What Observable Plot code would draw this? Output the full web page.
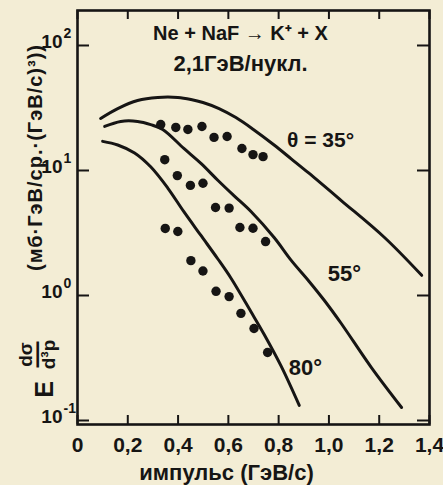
<!DOCTYPE html>
<html><head><meta charset="utf-8">
<script src="https://cdn.jsdelivr.net/npm/d3@7"></script>
<script src="https://cdn.jsdelivr.net/npm/@observablehq/plot@0.6"></script>
<style>
html,body{margin:0;padding:0;background:#f3edd5;overflow:hidden;}
#chart{width:443px;height:485px;}
</style></head><body><div id="chart"></div>
<script>
const xTicks = [0, 0.2, 0.4, 0.6, 0.8, 1.0, 1.2, 1.4];
const xTickLabels = ["0", "0,2", "0,4", "0,6", "0,8", "1,0", "1,2", "1,4"];
const yTicks = [0.1, 1, 10, 100];
const yTickBase = ["10", "10", "10", "10"];
const yTickExp = ["-1", "0", "1", "2"];

// model curves (theta = 35, 55, 80 deg)
const curve35X = [0.092, 0.160, 0.239, 0.319, 0.399, 0.451, 0.499, 0.563, 0.630, 0.698, 0.782, 0.850, 0.918, 1.049, 1.221, 1.369];
const curve35Y = [26.1, 31.3, 36.3, 38.4, 38.4, 37.0, 35.0, 31.3, 26.5, 21.4, 16.0, 12.4, 9.6, 5.75, 2.91, 1.45];
const curve55X = [0.108, 0.172, 0.239, 0.291, 0.339, 0.423, 0.491, 0.559, 0.622, 0.690, 0.782, 0.850, 0.918, 0.982, 1.049, 1.169, 1.289];
const curve55Y = [22.5, 24.7, 24.7, 23.3, 21.3, 15.0, 11.4, 8.32, 6.3, 4.7, 2.91, 1.91, 1.32, 0.912, 0.597, 0.265, 0.127];
const curve80X = [0.100, 0.160, 0.227, 0.291, 0.359, 0.423, 0.491, 0.559, 0.610, 0.690, 0.742, 0.810, 0.882];
const curve80Y = [17.1, 16.0, 13.8, 10.7, 7.24, 4.68, 3.02, 1.95, 1.38, 0.741, 0.490, 0.272, 0.132];

// measured points
const dots35X = [0.331, 0.391, 0.439, 0.495, 0.543, 0.595, 0.654, 0.698, 0.738];
const dots35Y = [23.3, 22.1, 21.3, 22.5, 18.4, 18.7, 15.0, 13.4, 12.9];
const dots55X = [0.347, 0.397, 0.449, 0.499, 0.549, 0.603, 0.646, 0.698, 0.748];
const dots55Y = [12.2, 9.1, 7.6, 7.9, 5.06, 5.0, 3.5, 3.45, 2.7];
const dots80X = [0.349, 0.399, 0.451, 0.499, 0.551, 0.603, 0.650, 0.702, 0.756];
const dots80Y = [3.44, 3.25, 1.9, 1.57, 1.08, 0.98, 0.72, 0.545, 0.35];

const title1 = "Ne + NaF → K⁺ + X";
const title2 = "2,1ГэВ/нукл.";
const labels = ["θ = 35°", "55°", "80°"];
const xLabel = "импульс (ГэВ/с)";
const yLabelE = "E";
const yLabelNum = "dσ";
const yLabelDen = "d³p";
const yLabelUnits = "(мб·ГэВ/ср.·(ГэВ/с)³))";

const ink = "#161514";
const pairs = (xs, ys) => xs.map((x, i) => ({x, y: ys[i]}));
const curves = [pairs(curve35X, curve35Y), pairs(curve55X, curve55Y), pairs(curve80X, curve80Y)];
const dots = [...pairs(dots35X, dots35Y), ...pairs(dots55X, dots55Y), ...pairs(dots80X, dots80Y)];

const W = 443, H = 485, mL = 77, mR = 14, mT = 10, mB = 61;
const fw = W - mL - mR, fh = H - mT - mB;

const txt = (s, cx, cy, opts = {}) => Plot.text([s], {
  text: d => d, frameAnchor: "top-left", dx: cx - mL, dy: cy - mT,
  textAnchor: "middle", lineAnchor: "middle", fill: ink, ...opts
});

const plot = Plot.plot({
  width: W, height: H,
  marginLeft: mL, marginRight: mR, marginTop: mT, marginBottom: mB,
  style: {background: "#f3edd5", color: ink, fontFamily: "'Liberation Sans', Arial, sans-serif", fontWeight: "bold", overflow: "visible"},
  x: {domain: [0, 1.4]},
  y: {type: "log", domain: [0.0929, 190.5], axis: null},
  marks: [
    Plot.axisX(xTicks, {tickSize: 0, tickPadding: 13, tickFormat: d => xTickLabels[xTicks.indexOf(d)], fontSize: 21, label: null, fill: ink}),
    Plot.text(yTicks, {y: d => d, text: (d, i) => yTickBase[i], frameAnchor: "left", textAnchor: "end", lineAnchor: "middle", dx: -15, dy: -4, fontSize: 19, fill: ink}),
    Plot.text(yTicks, {y: d => d, text: (d, i) => yTickExp[i], frameAnchor: "left", textAnchor: "start", lineAnchor: "middle", dx: -14, dy: -12, fontSize: 14, fill: ink}),
    Plot.tickX(xTicks, {x: d => d, insetTop: fh - 9, stroke: ink, strokeWidth: 2}),
    Plot.tickX(xTicks, {x: d => d, insetBottom: fh - 9, stroke: ink, strokeWidth: 2}),
    Plot.tickY(yTicks, {y: d => d, insetRight: fw - 12, stroke: ink, strokeWidth: 2}),
    Plot.tickY(yTicks, {y: d => d, insetLeft: fw - 12, stroke: ink, strokeWidth: 2}),
    Plot.frame({stroke: ink, strokeWidth: 2.6}),
    ...curves.map(c => Plot.line(c, {x: "x", y: "y", curve: "catmull-rom", stroke: ink, strokeWidth: 3})),
    Plot.dot(dots, {x: "x", y: "y", r: 4.7, fill: ink}),
    txt(title1, 240, 33, {fontSize: 20}),
    txt(title2, 240, 63, {fontSize: 22}),
    txt(labels[0], 320, 140, {fontSize: 21}),
    txt(labels[1], 344, 273, {fontSize: 22}),
    txt(labels[2], 305, 367, {fontSize: 22}),
    txt(xLabel, 226, 472, {fontSize: 22}),
    txt(yLabelE, 44, 389, {fontSize: 25, rotate: -90}),
    txt(yLabelNum, 25, 354, {fontSize: 19, rotate: -90}),
    txt("—", 36, 354, {fontSize: 26, rotate: -90}),
    txt(yLabelDen, 48, 354, {fontSize: 19, rotate: -90}),
    txt(yLabelUnits, 35, 157, {fontSize: 20, rotate: -90})
  ]
});
d3.select(plot).selectAll("text").filter(function() { return this.textContent === yLabelUnits; }).attr("letter-spacing", 1);
document.getElementById("chart").appendChild(plot);
</script>
</body></html>
